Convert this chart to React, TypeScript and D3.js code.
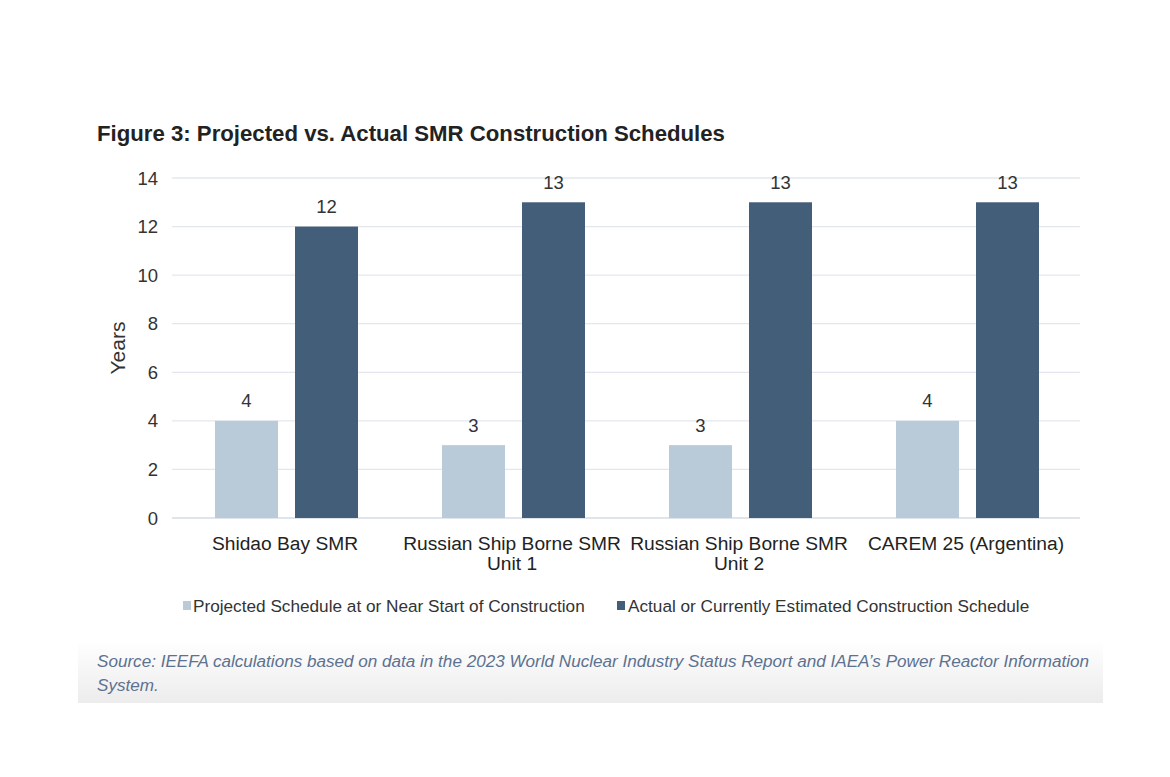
import React from "react";
import * as d3 from "d3";

const categories: string[][] = [
  ["Shidao Bay SMR"],
  ["Russian Ship Borne SMR", "Unit 1"],
  ["Russian Ship Borne SMR", "Unit 2"],
  ["CAREM 25 (Argentina)"],
];
const projected = [4, 3, 3, 4];
const actual = [12, 13, 13, 13];
const seriesNames = [
  "Projected Schedule at or Near Start of Construction",
  "Actual or Currently Estimated Construction Schedule",
];
const yTicks = [0, 2, 4, 6, 8, 10, 12, 14];

const W = 1170;
const H = 777;
const left = 172;
const right = 1080;
const top = 178;
const bottom = 518;
const lightColor = "#b9cad9";
const darkColor = "#435e78";
const font = "Arial, 'Liberation Sans', Helvetica, sans-serif";

export default function App() {
  const x0 = d3
    .scaleBand<number>()
    .domain(categories.map((_, i) => i))
    .range([left, right])
    .paddingInner(0)
    .paddingOuter(0);
  const bw = 63;
  const gap = 17;
  const y = d3.scaleLinear().domain([0, 14]).range([bottom, top]);
  const series = [projected, actual];
  const colors = [lightColor, darkColor];

  return (
    <svg
      width={W}
      height={H}
      viewBox={`0 0 ${W} ${H}`}
      style={{ position: "absolute", left: 0, top: 0, fontFamily: font }}
    >
      <defs>
        <linearGradient id="srcbg" x1="0" y1="0" x2="0" y2="1">
          <stop offset="0" stopColor="#ffffff" />
          <stop offset="1" stopColor="#ececec" />
        </linearGradient>
      </defs>
      <rect x={0} y={0} width={W} height={H} fill="#ffffff" />
      <rect x={78} y={640} width={1025} height={63} fill="url(#srcbg)" />
      <text x={97} y={141} fontSize={22.2} fontWeight="bold" fill="#222">
        Figure 3: Projected vs. Actual SMR Construction Schedules
      </text>
      {yTicks.map((t) => (
        <g key={t}>
          <line
            x1={left}
            x2={right}
            y1={y(t)}
            y2={y(t)}
            stroke={t === 0 ? "#d5dce4" : "#e3e7ed"}
            strokeWidth={1.3}
          />
          <text
            x={158}
            y={y(t) + 6.5}
            textAnchor="end"
            fontSize={18.5}
            fill="#333"
          >
            {t}
          </text>
        </g>
      ))}
      <text
        transform={`translate(125, 348) rotate(-90)`}
        textAnchor="middle"
        fontSize={21}
        fill="#333"
      >
        Years
      </text>
      {categories.map((cat, i) => {
        const c = (x0(i) as number) + x0.bandwidth() / 2 + 1;
        return (
          <g key={i}>
            {series.map((s, j) => {
              const bx = j === 0 ? c - gap / 2 - bw : c + gap / 2;
              return (
                <g key={j}>
                  <rect
                    x={bx}
                    y={y(s[i])}
                    width={bw}
                    height={bottom - y(s[i])}
                    fill={colors[j]}
                  />
                  <text
                    x={bx + bw / 2}
                    y={y(s[i]) - 13.5}
                    textAnchor="middle"
                    fontSize={18.5}
                    fill="#333"
                  >
                    {s[i]}
                  </text>
                </g>
              );
            })}
            {cat.map((line, k) => (
              <text
                key={k}
                x={c - 1.5}
                y={550 + k * 20}
                textAnchor="middle"
                fontSize={19.2}
                fill="#222"
              >
                {line}
              </text>
            ))}
          </g>
        );
      })}
      <rect x={183} y={601} width={8} height={9} fill={lightColor} />
      <text x={193} y={612} fontSize={17.2} fill="#333">
        {seriesNames[0]}
      </text>
      <rect x={617} y={601} width={8} height={9} fill={darkColor} />
      <text x={628} y={612} fontSize={17.2} fill="#333">
        {seriesNames[1]}
      </text>
      <text x={97} y={667} fontSize={17.1} fontStyle="italic" fill="#5d7190">
        Source: IEEFA calculations based on data in the 2023 World Nuclear
        Industry Status Report and IAEA’s Power Reactor Information
      </text>
      <text x={97} y={691} fontSize={17.1} fontStyle="italic" fill="#5d7190">
        System.
      </text>
    </svg>
  );
}
